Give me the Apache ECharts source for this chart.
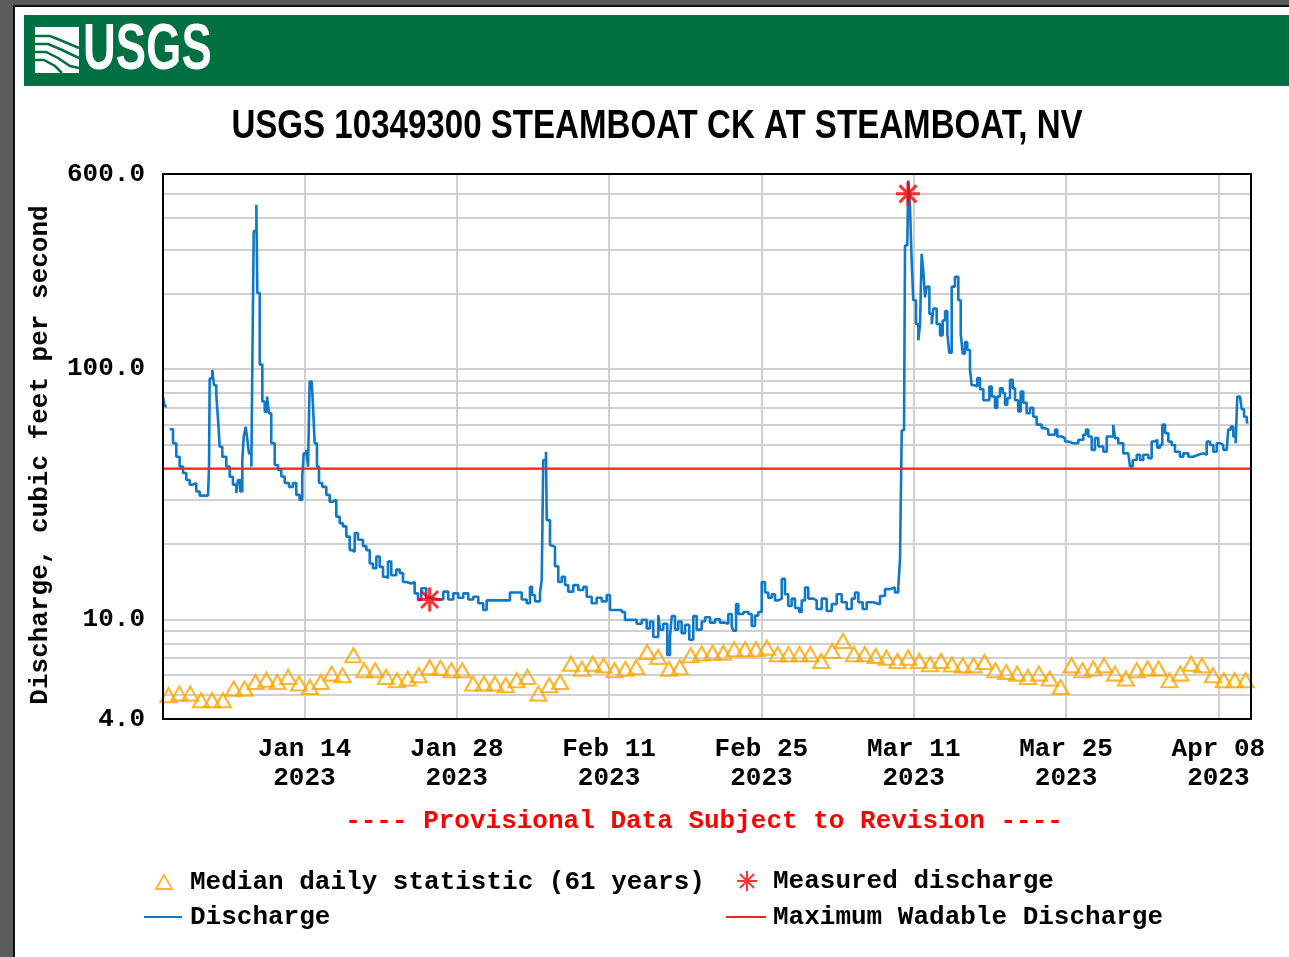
<!DOCTYPE html>
<html><head><meta charset="utf-8">
<script src="https://cdn.jsdelivr.net/npm/echarts@6/dist/echarts.min.js"></script>
<style>html,body{margin:0;padding:0;background:#fff}#c{width:1289px;height:957px}</style>
</head><body><div id="c"></div><script>
// ---------- data ----------
const chartTitle = 'USGS 10349300 STEAMBOAT CK AT STEAMBOAT, NV';
const yAxisName = 'Discharge, cubic feet per second';
const provisionalNote = '---- Provisional Data Subject to Revision ----';
const startDate = [2023, 0, 1];
const endDate = [2023, 3, 11];
const tickDates = [[2023,0,14],[2023,0,28],[2023,1,11],[2023,1,25],[2023,2,11],[2023,2,25],[2023,3,8]];
const monthNames = ['Jan','Feb','Mar','Apr','May','Jun','Jul','Aug','Sep','Oct','Nov','Dec'];
const yMin = 4, yMax = 600;
const gridLevelsCfs = [5,6,7,8,9,10,20,30,40,50,60,70,80,90,100,200,300,400,500];
const wadableCfs = 40;
// [days since Jan 1 00:00, discharge cfs]
const dischargeReadings = [
[0.0,77],[0.15,71],[0.35,null],
[0.62,57.4],[0.92,50.5],[1.22,44.6],[1.53,40.7],[1.84,38.4],[2.14,36],[2.45,34.5],[2.76,35],[3.06,32.4],[3.37,31.2],[4.14,31],[4.23,40.7],[4.29,91.5],[4.53,99],[4.69,86],[4.9,78.7],[5.06,62.6],[5.21,48.9],[5.45,44.6],[5.82,40.7],[6.13,37.1],[6.43,34.5],[6.74,31.9],[6.89,36],[7.1,32.4],[7.29,43.3],[7.42,53.6],[7.6,58.8],[7.72,53.6],[7.9,46],[8.12,40.7],[8.21,104],[8.34,355],[8.58,452],[8.67,201],[8.89,104],[9.13,74.1],[9.35,67.5],[9.56,77.6],[9.74,66.5],[9.95,50.5],[10.27,41.3],[10.57,39.5],[10.87,37.2],[11.19,35],[11.58,33.8],[11.95,35],[12.25,31.4],[12.56,30],[12.8,37.2],[12.93,46],[13.17,47.4],[13.33,40.7],[13.48,89],[13.67,87.6],[13.79,70.7],[13.94,50.5],[14.15,40.7],[14.34,35],[14.64,33.8],[15.01,31.4],[15.32,29.5],[15.62,30],[15.93,25.7],[16.24,24.2],[16.54,23.5],[16.85,21.4],[17.16,18.9],[17.4,18.6],[17.62,22.1],[17.92,20.8],[18.38,19.6],[18.69,18.9],[19.0,16.7],[19.3,16.0],[19.61,17.8],[19.92,16.2],[20.22,14.8],[20.47,14.6],[20.68,17.0],[20.98,15.0],[21.44,15.8],[21.76,15.3],[22.06,14.1],[22.36,13.9],[22.82,14.1],[23.13,12.7],[23.44,11.95],[23.74,13.3],[24.2,12.2],[24.51,12.0],
[25.46,12],[25.76,12.9],[26.22,12],[26.68,12.7],[27.14,12.2],[27.6,12.7],[28.06,12],[28.52,12.3],[28.98,11.6],[29.44,10.9],[29.75,11.9],[31.89,12.8],[32.66,12.8],[32.97,12],[33.43,11.6],[33.73,13.5],[33.92,12.5],[34.19,11.8],[34.65,12.7],[34.81,14.4],[34.95,43.3],[35.2,46.7],[35.27,24.9],[35.57,19.8],[35.75,19.5],[36.03,16.3],[36.33,14.1],[36.65,14.8],[36.95,13.7],[37.25,12.9],[37.71,13.7],[38.17,13.1],[38.63,13.5],[38.94,12.3],[39.4,11.6],[39.86,12.2],[40.32,11.8],[40.78,12.5],[41.08,10.9],[41.7,10.9],[42.16,10.7],[42.46,9.95],[43.08,9.95],[43.54,9.6],[44.0,9.95],[44.46,9.2],[44.76,9.8],[45.06,8.5],[45.52,10.4],[45.68,9.1],[45.98,9.6],[46.35,7.2],[46.6,8.5],[46.76,10.3],[47.06,9.1],[47.36,9.8],[47.67,8.8],[47.98,9.5],[48.37,8.3],[48.74,10.3],[49.05,9.1],[49.51,9.8],
[49.82,10.2],[50.28,9.7],[50.74,10.0],[51.19,9.7],[51.65,9.6],[51.96,10.5],[52.27,9.4],[52.42,9.0],[52.67,11.5],[52.88,10.5],[53.34,10.7],[53.8,10.5],[54.11,9.4],[54.41,10.35],[54.71,10.7],[55.03,14.1],[55.33,12.8],[55.63,12.2],[55.95,12.6],[56.25,11.9],[56.55,12.1],[56.87,14.5],[57.17,12.6],[57.47,11.3],[57.78,12.1],[58.09,11.1],[58.48,10.7],[58.7,11.9],[59.01,13.4],[59.31,12.1],[59.77,11.9],[60.08,11.0],[60.54,12.1],[61.0,10.8],[61.46,11.5],[61.92,12.6],[62.38,11.7],[62.84,11.0],[63.3,12.1],[63.6,12.8],[63.91,11.7],[64.31,11.0],[64.68,11.7],[65.28,11.5],[65.9,12.4],[66.36,13.2],[66.82,13.4],[67.28,12.8],[67.58,13.4],[67.74,17.4],[67.9,56.9],[68.11,57.6],[68.2,311],[68.41,316],[68.5,565],[68.66,444],[68.81,270],[68.96,188],[69.21,151],[69.42,130],[69.58,151],[69.73,288],[69.88,247],[70.04,193],[70.2,213],[70.44,166],[70.66,151],[70.8,174],[71.11,151],[71.42,136],[71.66,156],[71.88,170],[72.09,138],[72.27,116],[72.49,213],[72.79,233],[73.1,188],
[73.32,139],[73.5,115],[73.71,128],[73.92,119],[74.17,99],[74.33,86],[74.63,85],[74.84,92],[75.09,83],[75.4,75],[75.71,75],[75.95,85],[76.17,77.6],[76.47,69.9],[76.68,77.6],[76.93,83.6],[77.18,80.1],[77.39,71.9],[77.6,76.3],[77.85,90.5],[78.1,83.6],[78.31,75],[78.61,67.6],[78.83,81.2],[79.07,73.2],[79.38,66.5],[79.69,69.9],[79.99,64.4],[80.3,59.9],[80.76,58.0],[81.07,57.2],[81.37,54.6],[81.68,54.6],[81.99,57.2],[82.2,53.7],[82.6,52.9],[82.9,51.3],[83.21,50.5],[83.67,50.5],[84.13,52.1],[84.59,54.6],[84.83,57.2],[85.05,53.7],[85.36,47.5],[85.66,52.9],[85.97,49],[86.43,46.7],[86.74,53.7],[87.04,53.7],[87.34,59.9],[87.5,52.9],[87.8,50.5],[88.26,46],[88.72,45.4],[88.88,40.8],[89.13,43.3],[89.5,45.4],[89.8,43.3],[90.1,45.4],[90.56,44.0],[90.87,51.3],[91.18,52.1],[91.39,48.4],[91.64,49.7],[91.85,59.9],[92.1,55.4],[92.4,51.3],[92.71,49.7],[93.01,46.7],[93.47,44.6],[93.78,46],[94.24,44.6],[94.7,45.4],[95.16,46],[95.62,45.4],[95.93,51.3],[96.23,49.7],[96.54,46.7],[96.85,50.5],[97.15,49.7],[97.45,47.5],[97.77,46.7],[97.91,57.2],[98.14,58.8],[98.37,53.7],[98.59,50.5],[98.74,77.6],[98.99,77.6],[99.15,69.0],[99.36,64.4],[99.61,61.6],[99.71,60.6]
];
// median daily statistic, one per day from Jan 1 (plotted at noon)
const medianCfs = [
4.98,5.05,5.05,4.75,4.75,4.75,5.29,5.29,5.62,5.74,
5.62,5.89,5.54,5.37,5.62,6.07,5.98,7.19,6.26,6.26,
5.89,5.71,5.80,5.98,6.44,6.4,6.26,6.26,5.54,5.54,
5.54,5.46,5.71,5.89,5.05,5.46,5.62,6.65,6.35,6.65,
6.55,6.26,6.35,6.44,7.40,7.07,6.35,6.44,7.19,7.3,
7.36,7.36,7.6,7.6,7.6,7.71,7.26,7.26,7.26,7.26,
6.82,7.48,8.2,7.26,7.26,7.14,7.03,6.82,7.03,6.82,
6.62,6.82,6.6,6.55,6.55,6.76,6.26,6.16,6.07,5.89,
6.07,5.80,5.37,6.55,6.26,6.36,6.55,6.07,5.80,6.26,
6.36,6.36,5.71,6.07,6.65,6.55,5.98,5.71,5.71,5.71
];
const measuredDays = [24.51, 68.47];
const measuredCfs = [12.0, 500];
const seriesNames = ['Median daily statistic (61 years)', 'Measured discharge', 'Discharge', 'Maximum Wadable Discharge'];

// ---------- build ----------
const DAY = 86400000;
const t0 = Date.UTC(...startDate);
const tEnd = Date.UTC(...endDate);
const dayToTs = d => t0 + d * DAY;
const tickTs = tickDates.map(d => Date.UTC(...d));
const dischargeData = dischargeReadings.map(r => [dayToTs(r[0]), r[1]]);
const medianData = medianCfs.map((v, i) => [dayToTs(i + 0.5), v]);
const measuredData = measuredDays.map((d, i) => [dayToTs(d), measuredCfs[i]]);
const wadableData = [[t0, wadableCfs], [tEnd, wadableCfs]];

const MONO = "'Liberation Mono', 'DejaVu Sans Mono', monospace";
const monoText = { fontFamily: MONO, fontWeight: 'bold', fontSize: 26, color: '#000' };
const starPath = 'path://M10,0L10,20M0,10L20,10M2.93,2.93L17.07,17.07M17.07,2.93L2.93,17.07';
const gridColor = '#d0d0d0';
const blue = '#0f78c8', red = '#ff2020', orange = '#ffa500';

function legendBox(left, top, itemWidth, itemHeight, pad, item) {
  return { orient: 'vertical', left: left, top: top, itemWidth: itemWidth, itemHeight: itemHeight,
    selectedMode: false, symbolKeepAspect: true,
    textStyle: Object.assign({}, monoText, { lineHeight: 26, padding: [0, 0, 0, pad] }),
    data: [item] };
}

const chart = echarts.init(document.getElementById('c'), null, { renderer: 'canvas' });
chart.setOption({
  animation: false,
  backgroundColor: '#ffffff',
  grid: { left: 163, right: 38, top: 174, bottom: 238, show: true, borderColor: '#000', borderWidth: 2, backgroundColor: 'rgba(0,0,0,0)', z: 10 },
  xAxis: {
    type: 'value', min: t0, max: tEnd,
    axisLine: { show: false }, axisTick: { show: false }, splitLine: { show: false },
    axisLabel: Object.assign({}, monoText, {
      customValues: tickTs, margin: 16, lineHeight: 29,
      formatter: v => { const d = new Date(v); return monthNames[d.getUTCMonth()] + ' ' + String(d.getUTCDate()).padStart(2, '0') + '\n' + d.getUTCFullYear(); }
    })
  },
  yAxis: {
    type: 'log', logBase: 10, min: yMin, max: yMax,
    axisLine: { show: false }, axisTick: { show: false }, splitLine: { show: false },
    axisLabel: Object.assign({}, monoText, { margin: 18, padding: [6, 0, 0, 0], formatter: v => Number(v).toFixed(1) }),
    name: yAxisName, nameLocation: 'middle', nameGap: 110, nameRotate: 90,
    nameTextStyle: Object.assign({}, monoText, { padding: [0, 17, 0, 0] })
  },
  legend: [
    legendBox(150, 864, 16, 14, 13, { name: seriesNames[0] }),
    legendBox(138, 899, 38, 14, 3, { name: seriesNames[2], itemStyle: { opacity: 0 } }),
    legendBox(731, 863, 20, 20, 11, { name: seriesNames[1] }),
    legendBox(720, 899, 40, 14, 2, { name: seriesNames[3], itemStyle: { opacity: 0 } })
  ],
  graphic: [
    { type: 'rect', shape: { x: 0, y: 0, width: 13, height: 957 }, style: { fill: '#5c5c5c' }, silent: true },
    { type: 'rect', shape: { x: 0, y: 0, width: 1289, height: 5 }, style: { fill: '#5c5c5c' }, silent: true },
    { type: 'rect', shape: { x: 13, y: 5, width: 2, height: 952 }, style: { fill: '#111' }, silent: true },
    { type: 'rect', shape: { x: 13, y: 5, width: 1276, height: 2 }, style: { fill: '#111' }, silent: true },
    { type: 'rect', shape: { x: 24, y: 15, width: 1265, height: 71 }, style: { fill: '#006f41' }, silent: true },
    { type: 'rect', shape: { x: 35, y: 27, width: 44, height: 46 }, style: { fill: '#ffffff' }, silent: true },
    { type: 'polyline', shape: { points: [[35,36],[50,36],[60,40],[79,48]] }, style: { stroke: '#006f41', lineWidth: 2.5, fill: null }, silent: true },
    { type: 'polyline', shape: { points: [[35,44],[48,44],[60,49],[79,58]] }, style: { stroke: '#006f41', lineWidth: 2.5, fill: null }, silent: true },
    { type: 'polyline', shape: { points: [[35,52],[46,52],[58,58],[70,66],[79,68]] }, style: { stroke: '#006f41', lineWidth: 2.5, fill: null }, silent: true },
    { type: 'polyline', shape: { points: [[35,60],[44,60],[55,66],[62,73]] }, style: { stroke: '#006f41', lineWidth: 2.5, fill: null }, silent: true },
    { type: 'text', x: 83, y: 51, scaleX: 0.71, silent: true,
      style: { text: 'USGS', x: 0, y: 0, textAlign: 'left', textVerticalAlign: 'middle', fill: '#ffffff', fontFamily: "'Liberation Sans', Arial, sans-serif", fontWeight: 'bold', fontSize: 64 } },
    { type: 'text', x: 657, y: 127, scaleX: 0.807, silent: true,
      style: { text: chartTitle, x: 0, y: 0, textAlign: 'center', textVerticalAlign: 'middle', fill: '#000', fontFamily: "'Liberation Sans', Arial, sans-serif", fontWeight: 'bold', fontSize: 41 } },
    { type: 'text', x: 704, y: 821, silent: true,
      style: { text: provisionalNote, x: 0, y: 0, textAlign: 'center', textVerticalAlign: 'middle', fill: '#ff0000', fontFamily: MONO, fontWeight: 'bold', fontSize: 26 } }
  ],
  series: [
    { type: 'line', name: '_grid', data: [], silent: true, z: 1,
      markLine: { z: 1, silent: true, symbol: ['none', 'none'], label: { show: false },
        lineStyle: { color: gridColor, width: 2, type: 'solid' },
        emphasis: { disabled: true },
        data: gridLevelsCfs.map(v => ({ yAxis: v })).concat(tickTs.map(t => ({ xAxis: t }))) } },
    { type: 'line', name: seriesNames[2], data: dischargeData, step: 'end', symbol: 'none', showSymbol: false,
      connectNulls: false, z: 3, color: blue, lineStyle: { color: blue, width: 2.6 } },
    { type: 'line', name: seriesNames[3], data: wadableData, symbol: 'none', showSymbol: false, z: 3,
      color: red, lineStyle: { color: red, width: 2.2 } },
    { type: 'scatter', name: seriesNames[0], data: medianData, symbol: 'triangle', symbolSize: [16, 14], z: 4,
      itemStyle: { color: 'rgba(0,0,0,0)', borderColor: orange, borderWidth: 2.2 } },
    { type: 'scatter', name: seriesNames[1], data: measuredData, symbol: starPath, symbolSize: 24, z: 5,
      itemStyle: { color: 'rgba(0,0,0,0)', borderColor: '#ff0000', borderWidth: 3 } }
  ]
});
</script></body></html>
